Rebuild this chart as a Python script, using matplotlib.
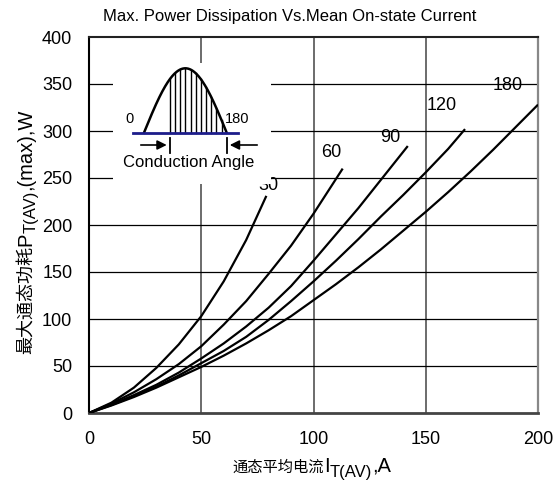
import numpy as np
import matplotlib
matplotlib.use("Agg")
import matplotlib.pyplot as plt

plt.rcParams['font.family'] = ['Liberation Sans', 'Noto Sans CJK SC', 'DejaVu Sans']

# ---- data ----
I_30 = [0, 10, 20, 30, 40, 50, 60, 70, 79]
P_30 = [0, 11, 27, 48, 73, 103, 140, 184, 231]

I_60 = [0, 10, 20, 30, 40, 50, 60, 70, 80, 90, 100, 113]
P_60 = [0, 10, 22, 36, 52, 71, 94, 119, 148, 178, 212, 260]

I_90 = [0, 10, 20, 30, 40, 50, 60, 70, 80, 90, 100, 110, 120, 130, 142]
P_90 = [0, 9, 19, 30, 43, 58, 74, 92, 112, 135, 162, 190, 218, 248, 284]

I_120 = [0, 10, 20, 30, 40, 50, 60, 70, 80, 90, 100, 110, 120, 130, 140, 150, 160, 167.5]
P_120 = [0, 8.5, 18, 28, 40, 53, 66, 81, 99, 119, 140, 162, 185, 209, 232, 256, 281, 302]

I_180 = [0, 10, 20, 30, 40, 50, 60, 70, 80, 90, 100, 110, 120, 130, 140, 150, 160, 170, 180, 190, 200]
P_180 = [0, 8, 17, 27, 38, 49, 61, 74, 88, 103, 120, 137, 155, 174, 194, 214, 235, 257, 280, 304, 328]

curve_names = ["30", "60", "90", "120", "180"]
label_pos = [(79.7, 241.5), (108.1, 276.6), (134.2, 292.8), (157.1, 326.8), (186.3, 348.6)]

x_ticks = [0, 50, 100, 150, 200]
y_ticks = [0, 50, 100, 150, 200, 250, 300, 350, 400]

title = "Max. Power Dissipation Vs.Mean On-state Current"
# label pieces: (text, fontsize, subscript?)
xlabel_parts = [("通态平均电流", 11, False), ("I", 14.5, False), ("T(AV)", 12, True), (",A", 14.5, False)]
ylabel_parts = [("最大通态功耗", 13, False), ("P", 14.5, False), ("T(AV)", 12, True), (",(max),W", 14.5, False)]

W, H = 557, 487
fig = plt.figure(figsize=(W / 100, H / 100), dpi=100)
ax = fig.add_axes([89 / W, 1 - 413 / H, (538 - 89) / W, (413 - 37) / H])

ax.set_xlim(0, 200)
ax.set_ylim(0, 400)
ax.set_xticks(x_ticks)
ax.set_yticks(y_ticks)
ax.tick_params(axis='both', length=0, labelsize=13)
ax.tick_params(axis='y', pad=12)
ax.tick_params(axis='x', pad=13)

for x in x_ticks[1:-1]:
    ax.axvline(x, color='#444444', lw=1.1, zorder=1)
for y in y_ticks[1:-1]:
    ax.axhline(y, color='black', lw=0.9, zorder=1)

ax.spines['left'].set_color('black')
ax.spines['left'].set_linewidth(1.5)
ax.spines['top'].set_color('#222222')
ax.spines['top'].set_linewidth(1.5)
ax.spines['right'].set_color('#888888')
ax.spines['right'].set_linewidth(1.6)
ax.spines['bottom'].set_color('#444444')
ax.spines['bottom'].set_linewidth(2.0)

series = [(I_30, P_30), (I_60, P_60), (I_90, P_90), (I_120, P_120), (I_180, P_180)]
for (xs, ys), name, (lx, ly) in zip(series, curve_names, label_pos):
    ax.plot(xs, ys, color='black', lw=1.6, zorder=3, solid_capstyle='butt')
    ax.text(lx, ly, name, fontsize=13, ha='center', va='center', zorder=4)

fig.text(290 / W, 1 - 16 / H, title, ha='center', va='center', fontsize=12)

renderer = fig.canvas.get_renderer()


def layout_label(parts, center, base, vertical):
    """Place text pieces one after another, centred on `center`; figure pixels (origin bottom-left)."""
    pos = 0.0
    items = []
    for s, fs, sub in parts:
        off = 0.28 * fs * 100 / 72 if sub else 0.0
        if vertical:
            t = fig.text((base + off) / W, pos / H, s, fontsize=fs, rotation=90,
                         rotation_mode='anchor', ha='left', va='baseline')
            adv = t.get_window_extent(renderer).height
        else:
            t = fig.text(pos / W, (base - off) / H, s, fontsize=fs,
                         ha='left', va='baseline')
            adv = t.get_window_extent(renderer).width
        items.append((t, pos, off))
        pos += adv
    start = center - pos / 2
    for t, p, off in items:
        if vertical:
            t.set_position(((base + off) / W, (start + p) / H))
        else:
            t.set_position(((start + p) / W, (base - off) / H))


layout_label(xlabel_parts, 312, H - 472, vertical=False)
layout_label(ylabel_parts, H - 231.5, 31, vertical=True)

# ---- inset schematic (coordinates in figure pixels) ----
x0, x1, y0, y1 = 113, 271, 63, 184
axi = fig.add_axes([x0 / W, 1 - y1 / H, (x1 - x0) / W, (y1 - y0) / H])
axi.set_xlim(x0, x1)
axi.set_ylim(y1, y0)
axi.set_xticks([])
axi.set_yticks([])
for s in axi.spines.values():
    s.set_visible(False)
axi.set_facecolor('white')

base = 132.7
xs0, xs1 = 144.0, 226.7
amp = 64.4
t = np.linspace(0, np.pi, 200)
wx = xs0 + (xs1 - xs0) * t / np.pi
wy = base - amp * np.sin(t)
axi.plot(wx, wy, color='black', lw=1.8, zorder=3)
axi.plot([133.3, 238.3], [base, base], color='#1c1c8a', lw=2.0, zorder=4)
hx = np.linspace(170, 226.7, 12)
for h in hx:
    th = (h - xs0) / (xs1 - xs0) * np.pi
    axi.plot([h, h], [base, base - amp * np.sin(th)], color='black', lw=1.0, zorder=2)
axi.text(129.3, 119.3, "0", fontsize=10.5, ha='center', va='center')
axi.text(236.7, 119.3, "180", fontsize=10.5, ha='center', va='center')
axi.text(188.3, 162.7, "Conduction Angle", fontsize=12, ha='center', va='center')
axi.annotate("", xy=(169.5, 145), xytext=(138, 145),
             arrowprops=dict(arrowstyle='-|>', color='black', lw=1.2, mutation_scale=14))
axi.annotate("", xy=(227, 145), xytext=(260, 145),
             arrowprops=dict(arrowstyle='-|>', color='black', lw=1.2, mutation_scale=14))
axi.plot([170, 170], [138, 153], color='black', lw=1.3)
axi.plot([226.7, 226.7], [138, 153], color='black', lw=1.3)

fig.savefig("out.png", dpi=100)
